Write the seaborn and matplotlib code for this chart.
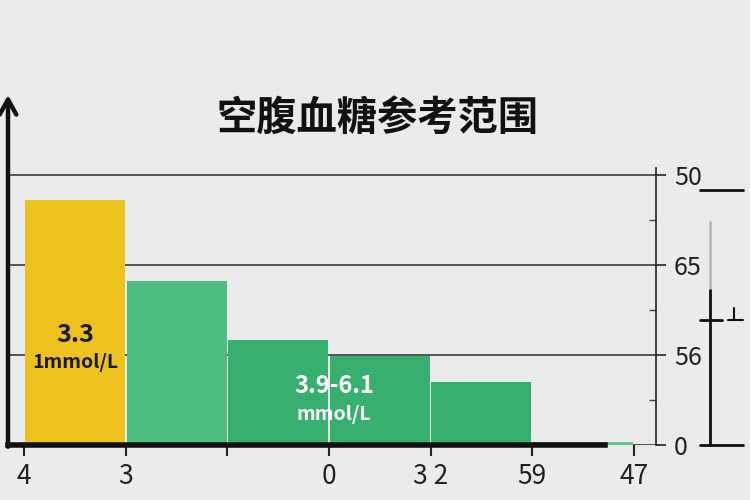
import numpy as np
import pandas as pd
import matplotlib
matplotlib.use("Agg")
import matplotlib.pyplot as plt
from matplotlib.lines import Line2D
import seaborn as sns

# ---- data ----
segments = ["seg1", "seg2", "seg3", "seg4", "seg5", "seg6"]
heights = [2.72, 1.82, 1.17, 0.99, 0.70, 0.03]
bar_colors = ["#EDC11E", "#4DBE80", "#37B06F", "#37B06F", "#37B06F", "#5CC98A"]
x_tick_labels = ["4", "3", "", "0", "3 2", "59", "47"]
y_ticks = [0, 1, 2, 3]
y_tick_labels = ["0", "56", "65", "50"]
title = "空腹血糖参考范围"

df = pd.DataFrame({"segment": segments, "value": heights})

sns.set_theme(style="white")
plt.rcParams["font.family"] = ["Noto Sans CJK SC", "DejaVu Sans"]
bg = "#ebebeb"

fig = plt.figure(figsize=(7.5, 5), dpi=100, facecolor=bg)
ax = fig.add_axes([8 / 750, 55 / 500, 648 / 750, 350 / 500])
ax.set_facecolor(bg)

sns.barplot(data=df, x="segment", y="value", hue="segment",
            palette=bar_colors, legend=False, width=0.985,
            saturation=1, linewidth=0, ax=ax)

ax.set_xlim(-0.66, 5.72)
ax.set_ylim(0, 3.89)
ax.set_xlabel("")
ax.set_ylabel("")

# gridlines behind bars
ax.set_axisbelow(True)
ax.yaxis.grid(True, color="#3a3a3a", linewidth=1.2)
ax.xaxis.grid(False)

# x ticks on bar edges
ax.set_xticks(np.arange(len(x_tick_labels)) - 0.5)
ax.set_xticklabels(x_tick_labels, fontsize=19, color="#222222")
ax.tick_params(axis="x", direction="out", length=8, width=1.5,
               color="#222222", pad=5, bottom=True)

# value axis on the right
ax.yaxis.tick_right()
ax.set_yticks(y_ticks)
ax.set_yticklabels(y_tick_labels, fontsize=18, color="#222222")
ax.set_yticks([0.5, 1.5, 2.5], minor=True)
ax.tick_params(axis="y", which="major", direction="out", length=7,
               width=1.2, color="#222222", pad=6, right=True)
ax.tick_params(axis="y", which="minor", direction="in", length=5,
               width=1, color="#444444", right=True)

ax.spines["top"].set_visible(False)
ax.spines["right"].set_color("#222222")
ax.spines["right"].set_linewidth(1.2)
ax.spines["right"].set_bounds(0, 3.08)
ax.spines["left"].set_visible(False)
ax.spines["bottom"].set_color("#111111")
ax.spines["bottom"].set_linewidth(4)
ax.spines["bottom"].set_bounds(-0.66, 5.22)

# left axis with arrow head
ax.annotate("", xy=(0, 1.0), xytext=(0, -0.005), xycoords="axes fraction",
            arrowprops=dict(arrowstyle="->,head_length=0.9,head_width=0.5",
                            lw=3.2, color="#111111", shrinkA=0, shrinkB=0))

# bar annotations
ax.text(0, 1.22, "3.3", ha="center", va="center", fontsize=18,
        fontweight="bold", color="#1a1a1a")
ax.text(0, 0.92, "1mmol/L", ha="center", va="center", fontsize=14,
        fontweight="bold", color="#1a1a1a")
ax.text(2.55, 0.66, "3.9-6.1", ha="center", va="center", fontsize=17,
        fontweight="bold", color="white")
ax.text(2.55, 0.34, "mmol/L", ha="center", va="center", fontsize=14,
        fontweight="bold", color="white")

fig.text(0.503, 1 - 118 / 500, title, ha="center", va="center",
         fontsize=29, fontweight="bold", color="#111111")

# small scale decoration at far right
def px_line(x0, y0, x1, y1, **kw):
    fig.add_artist(Line2D([x0 / 750, x1 / 750], [1 - y0 / 500, 1 - y1 / 500],
                          transform=fig.transFigure, **kw))

px_line(700, 190, 743, 190, color="#111111", lw=2)
px_line(710, 222, 710, 290, color="#b8b8b8", lw=2)
px_line(710, 290, 710, 445, color="#111111", lw=2)
px_line(700, 445, 743, 445, color="#111111", lw=2)
px_line(700, 320, 722, 320, color="#111111", lw=2)
px_line(728, 320, 743, 320, color="#111111", lw=1.5)
px_line(734, 308, 734, 320, color="#111111", lw=1.5)

fig.savefig("out.png", dpi=100, facecolor=bg)
